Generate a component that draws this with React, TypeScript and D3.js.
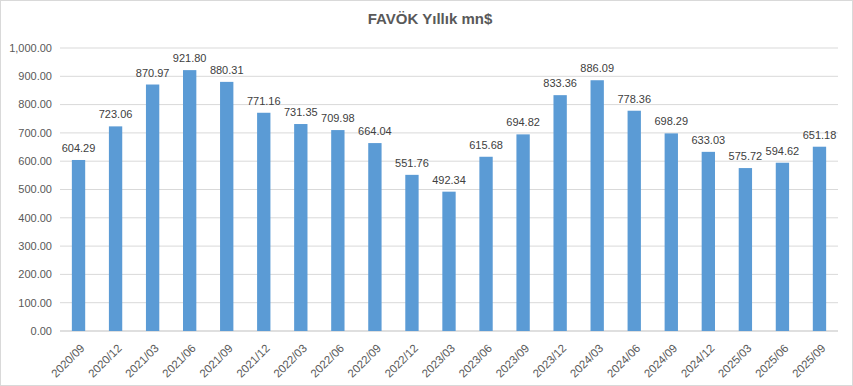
import React from 'react';
import * as d3 from 'd3';

const periods = [
  '2020/09', '2020/12', '2021/03', '2021/06', '2021/09', '2021/12',
  '2022/03', '2022/06', '2022/09', '2022/12', '2023/03', '2023/06',
  '2023/09', '2023/12', '2024/03', '2024/06', '2024/09', '2024/12',
  '2025/03', '2025/06', '2025/09'
];

const values = [
  604.29, 723.06, 870.97, 921.80, 880.31, 771.16,
  731.35, 709.98, 664.04, 551.76, 492.34, 615.68,
  694.82, 833.36, 886.09, 778.36, 698.29, 633.03,
  575.72, 594.62, 651.18
];

const yTicks = [0, 100, 200, 300, 400, 500, 600, 700, 800, 900, 1000];

const W = 853;
const H = 386;
const M = { top: 48, right: 15, bottom: 55, left: 60 };
const font = "'Liberation Sans', Arial, sans-serif";
const fmt = d3.format(',.2f');

const App = () => {
  const x = d3.scaleBand()
    .domain(periods)
    .range([M.left, W - M.right])
    .paddingInner(0.64)
    .paddingOuter(0.32);

  const y = d3.scaleLinear()
    .domain([0, 1000])
    .range([H - M.bottom, M.top]);

  return (
    <svg width={W} height={H} style={{ position: 'absolute', left: 0, top: 0, fontFamily: font }}>
      <rect x={0.5} y={0.5} width={W - 1} height={H - 1} fill="#fff" stroke="#d9d9d9" />
      <text x={430} y={24} textAnchor="middle" fontSize={15} fontWeight="bold" fill="#595959">
        FAVÖK Yıllık mn$
      </text>
      {yTicks.map(t => (
        <g key={t}>
          <line x1={M.left} x2={W - M.right} y1={y(t)} y2={y(t)}
            stroke={t === 0 ? '#bfbfbf' : '#d9d9d9'} />
          <text x={52} y={y(t)} dy="0.35em" textAnchor="end" fontSize={11} fill="#595959">
            {fmt(t)}
          </text>
        </g>
      ))}
      {periods.map((p, i) => {
        const bx = x(p)!;
        const cx = bx + x.bandwidth() / 2;
        return (
          <g key={p}>
            <rect x={bx} y={y(values[i])} width={x.bandwidth()} height={y(0) - y(values[i])} fill="#5b9bd5" />
            <text x={cx} y={y(values[i]) - 8} textAnchor="middle" fontSize={11} fill="#404040">
              {fmt(values[i])}
            </text>
            <text transform={`translate(${cx + 4},${y(0) + 15}) rotate(-45)`} textAnchor="end"
              dy="0.35em" fontSize={11.5} fill="#595959">
              {p}
            </text>
          </g>
        );
      })}
    </svg>
  );
};

export default App;
